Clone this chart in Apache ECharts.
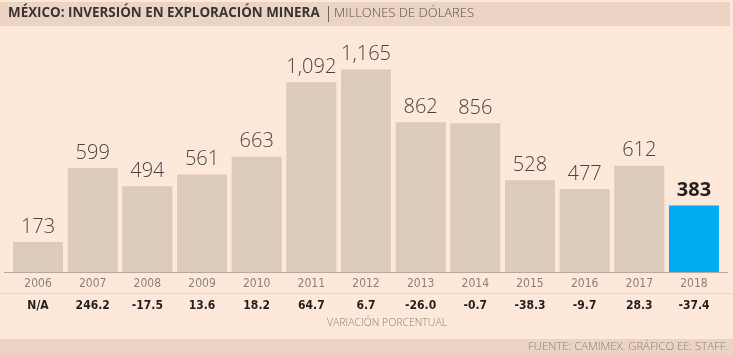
<!DOCTYPE html>
<html><head><meta charset="utf-8">
<script src="https://cdn.jsdelivr.net/npm/echarts@6/dist/echarts.min.js"></script>
<style>html,body{margin:0;padding:0;background:#fee8d9;}#c{width:733px;height:355px;}</style>
</head><body><div id="c"></div>
<script>
const years = ['2006','2007','2008','2009','2010','2011','2012','2013','2014','2015','2016','2017','2018'];
const values = [173,599,494,561,663,1092,1165,862,856,528,477,612,383];
const valueLabels = ['173','599','494','561','663','1,092','1,165','862','856','528','477','612','383'];
const changes = ['N/A','246.2','-17.5','13.6','18.2','64.7','6.7','-26.0','-0.7','-38.3','-9.7','28.3','-37.4'];

const chart = echarts.init(document.getElementById('c'));
const last = values.length - 1;
chart.setOption({
  backgroundColor: '#fee8d9',
  animation: false,
  graphic: [
    {type:'rect', shape:{x:0,y:2,width:730,height:24}, style:{fill:'#ecd4c4'}, z:-1},
    {type:'rect', shape:{x:0,y:339,width:733,height:16}, style:{fill:'#ecd4c4'}, z:-1},
    {type:'rect', shape:{x:4,y:272,width:724,height:1}, style:{fill:'#b8a89e'}, z:10},
    {type:'rect', shape:{x:0,y:293,width:733,height:1}, style:{fill:'#f0d6c6'}, z:-1},
    {type:'text', left:8, top:7, style:{text:'MÉXICO: INVERSIÓN EN EXPLORACIÓN MINERA', font:'bold 13.4px "Open Sans"', fill:'#3a3334'}},
    {type:'rect', shape:{x:328,y:6,width:1,height:16}, style:{fill:'#6d6564'}},
    {type:'text', left:334, top:7, style:{text:'MILLONES DE DÓLARES', font:'300 13px "Open Sans"', fill:'#55504f'}},
    {type:'text', left:327, top:318, style:{text:'VARIACIÓN PORCENTUAL', font:'300 10.5px "Open Sans"', fill:'#8a817d'}},
    {type:'text', right:5, top:341, style:{text:'FUENTE: CAMIMEX. GRÁFICO EE: STAFF.', font:'300 11.3px "Open Sans"', fill:'#8a817d'}}
  ],
  grid: {left:10.7, right:11.7, top:40, bottom:83},
  xAxis: [
    {type:'category', data: years, position:'bottom',
     axisLine:{show:false},
     axisTick:{show:false},
     axisLabel:{color:'#8a817d', fontSize:12, fontFamily:'"Liberation Sans Narrow","DejaVu Sans Condensed",sans-serif', margin:6}},
    {type:'category', data: changes, position:'bottom', offset:22,
     axisLine:{show:false},
     axisTick:{show:false},
     axisLabel:{color:'#231f20', fontSize:12, fontWeight:'bold', fontFamily:'"Liberation Sans Narrow","DejaVu Sans Condensed",sans-serif', margin:6}}
  ],
  yAxis: {type:'value', min:0, max:1335, show:false, splitLine:{show:false}},
  series: [{
    type:'bar', xAxisIndex:0,
    barCategoryGap:'8.5%',
    data: values.map((v,i)=>({value:v, itemStyle:{color: i===last ? '#00adef' : '#dccabb'},
      label:{fontWeight: i===last ? 'bold' : 300, color: i===last ? '#231f20' : '#4a4444'}})),
    label:{show:true, position:'top', distance:5, fontSize:20, fontFamily:'"Open Sans"',
      formatter: p => valueLabels[p.dataIndex]}
  }]
});
</script></body></html>
